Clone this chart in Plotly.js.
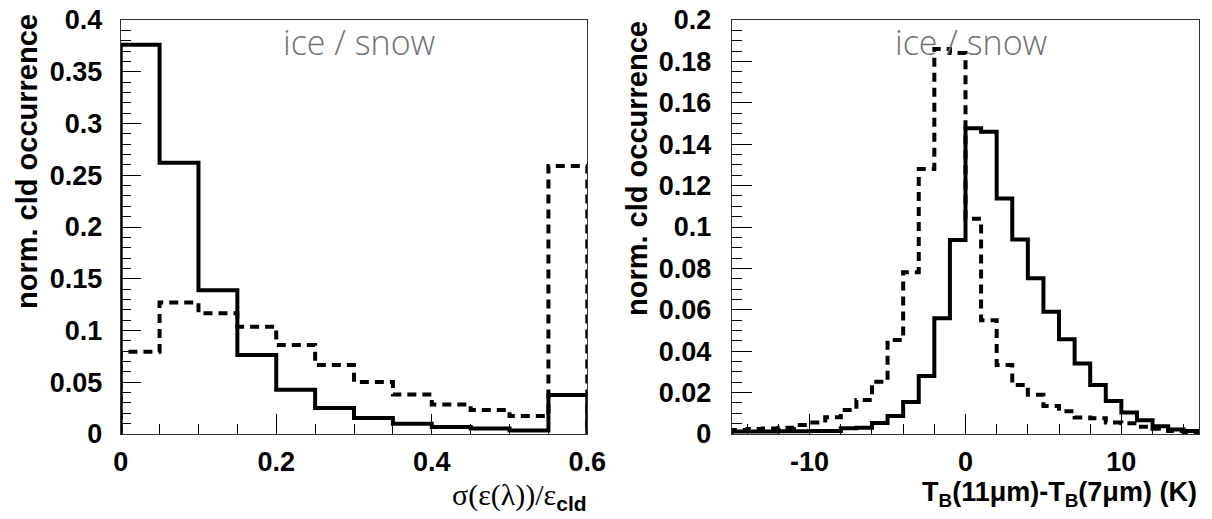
<!DOCTYPE html>
<html>
<head>
<meta charset="utf-8">
<script src="https://cdn.plot.ly/plotly-3.0.1.min.js"></script>
<style>
  html, body { margin: 0; padding: 0; background: #ffffff; }
  #chart { width: 1212px; height: 519px; }
</style>
</head>
<body>
<div id="chart"></div>
<script>
// ---------- data ----------
// Left panel: sigma(eps(lambda))/eps_cld, bin edges
var leftEdges = [0, 0.05, 0.1, 0.15, 0.2, 0.25, 0.3, 0.35, 0.4, 0.45, 0.5, 0.55, 0.6];
var leftSolid = [0.376, 0.262, 0.139, 0.0763, 0.0428, 0.0252, 0.0155, 0.0099, 0.0068, 0.0052, 0.0033, 0.0377];
var leftDashed = [0.0795, 0.127, 0.1166, 0.1037, 0.086, 0.0667, 0.0503, 0.0382, 0.0285, 0.0232, 0.0174, 0.259];

// Right panel: TB(11um)-TB(7um) (K), bin edges
var rightEdges = [-15, -14, -13, -12, -11, -10, -9, -8, -7, -6, -5, -4, -3, -2, -1, 0,
                  1, 2, 3, 4, 5, 6, 7, 8, 9, 10, 11, 12, 13, 14, 15];
var rightSolid = [0.0012, 0.0012, 0.0012, 0.0013, 0.0013, 0.0014, 0.0015, 0.0028, 0.003, 0.0053,
                  0.0087, 0.0155, 0.028, 0.0559, 0.0937, 0.1477, 0.146, 0.1138, 0.094, 0.0752,
                  0.0591, 0.0458, 0.0341, 0.0237, 0.016, 0.0104, 0.0066, 0.0037, 0.0022, 0.0015];
var rightDashed = [0.0019, 0.0024, 0.0027, 0.003, 0.0043, 0.0055, 0.0081, 0.0116, 0.0164, 0.0253,
                   0.0454, 0.0782, 0.128, 0.186, 0.184, 0.104, 0.055, 0.0333, 0.0237, 0.019,
                   0.0135, 0.011, 0.008, 0.0076, 0.0055, 0.0052, 0.0035, 0.0025, 0.0015, 0.001];

var panelLabel = "ice / snow";
var yTitle = "norm. cld occurrence";
var leftXTitle = "σ(ε(λ))/ε<sub><span style=\"font-family:'Liberation Sans',Arial,sans-serif;font-weight:bold\">cld</span></sub>";
var rightXTitle = "<b>T<sub>B</sub>(11μm)-T<sub>B</sub>(7μm) (K)</b>";
var rightTickVals = [-10, 0, 10];
var rightTickText = ["-10", "0", "10"];

// ---------- helpers ----------
function stepTrace(edges, vals, dashed, xa, ya) {
  var xs = [edges[0]], ys = [0];
  for (var i = 0; i < vals.length; i++) { xs.push(edges[i]); ys.push(vals[i]); }
  xs.push(edges[edges.length - 1]); ys.push(vals[vals.length - 1]);
  xs.push(edges[edges.length - 1]); ys.push(0);
  return {
    type: 'scatter', mode: 'lines', x: xs, y: ys, xaxis: xa, yaxis: ya,
    line: { shape: 'hv', color: '#000000', width: 4, dash: dashed ? '9px,6px' : 'solid' },
    hoverinfo: 'skip', showlegend: false
  };
}

var tickFont = { family: "'Liberation Sans', Arial, sans-serif", size: 27, color: '#000', weight: 'bold' };
var W = 1212, H = 519;
var yDom = [85 / H, 499 / H];

function baseAxis(extra) {
  var a = {
    showgrid: false, zeroline: false, showline: true, mirror: true,
    linecolor: '#333', linewidth: 1,
    ticks: 'inside', tickcolor: '#000', tickwidth: 1,
    tickfont: tickFont, fixedrange: true
  };
  for (var k in extra) a[k] = extra[k];
  return a;
}

var data = [
  stepTrace(leftEdges, leftDashed, true, 'x', 'y'),
  stepTrace(leftEdges, leftSolid, false, 'x', 'y'),
  stepTrace(rightEdges, rightDashed, true, 'x2', 'y2'),
  stepTrace(rightEdges, rightSolid, false, 'x2', 'y2')
];

var labelFont = { family: "'Open Sans', 'DejaVu Sans', sans-serif", size: 34, color: '#727272', weight: 300 };

var layout = {
  width: W, height: H,
  margin: { l: 0, r: 0, t: 0, b: 0 },
  paper_bgcolor: '#ffffff', plot_bgcolor: '#ffffff',
  showlegend: false,
  xaxis: baseAxis({
    domain: [120.7 / W, 587.3 / W], anchor: 'y', range: [0, 0.6],
    tick0: 0, dtick: 0.2, ticklen: 20, ticklabelstandoff: 4,
    minor: { dtick: 0.05, tick0: 0, ticks: 'inside', ticklen: 10, tickcolor: '#000', tickwidth: 1 }
  }),
  yaxis: baseAxis({
    domain: yDom, anchor: 'x', range: [0, 0.4],
    tick0: 0, dtick: 0.05, ticklen: 20, ticklabelstandoff: 12,
    minor: { dtick: 0.01, tick0: 0, ticks: 'inside', ticklen: 10, tickcolor: '#000', tickwidth: 1 }
  }),
  xaxis2: baseAxis({
    domain: [731.7 / W, 1199.3 / W], anchor: 'y2', range: [-15, 15],
    tickmode: 'array', tickvals: rightTickVals, ticktext: rightTickText,
    ticklen: 20, ticklabelstandoff: 4,
    minor: { tickmode: 'linear', dtick: 2, tick0: 0, ticks: 'inside', ticklen: 10, tickcolor: '#000', tickwidth: 1 }
  }),
  yaxis2: baseAxis({
    domain: yDom, anchor: 'x2', range: [0, 0.2],
    tick0: 0, dtick: 0.02, ticklen: 20, ticklabelstandoff: 14,
    minor: { dtick: 0.005, tick0: 0, ticks: 'inside', ticklen: 10, tickcolor: '#000', tickwidth: 1 }
  }),
  annotations: [
    { xref: 'paper', yref: 'paper', x: 27 / W, y: 1 - 162 / H, xanchor: 'center', yanchor: 'middle',
      textangle: -90, showarrow: false, text: yTitle,
      font: { family: "'Liberation Sans', Arial, sans-serif", size: 29, color: '#000', weight: 'bold' } },
    { xref: 'paper', yref: 'paper', x: 637 / W, y: 1 - 168 / H, xanchor: 'center', yanchor: 'middle',
      textangle: -90, showarrow: false, text: yTitle,
      font: { family: "'Liberation Sans', Arial, sans-serif", size: 29, color: '#000', weight: 'bold' } },
    { xref: 'paper', yref: 'paper', x: 589 / W, y: 1 - 496 / H, xanchor: 'right', yanchor: 'middle',
      showarrow: false, text: leftXTitle,
      font: { family: "'Liberation Serif', 'Times New Roman', serif", size: 30, color: '#000' } },
    { xref: 'paper', yref: 'paper', x: 1199 / W, y: 1 - 494 / H, xanchor: 'right', yanchor: 'middle',
      showarrow: false, text: rightXTitle,
      font: { family: "'Liberation Sans', Arial, sans-serif", size: 27, color: '#000' } },
    { xref: 'paper', yref: 'paper', x: 359 / W, y: 1 - 42 / H, xanchor: 'center', yanchor: 'middle',
      showarrow: false, text: panelLabel, font: labelFont },
    { xref: 'paper', yref: 'paper', x: 971 / W, y: 1 - 42 / H, xanchor: 'center', yanchor: 'middle',
      showarrow: false, text: panelLabel, font: labelFont }
  ]
};

Plotly.newPlot('chart', data, layout, { displayModeBar: false, staticPlot: true });
</script>
</body>
</html>
